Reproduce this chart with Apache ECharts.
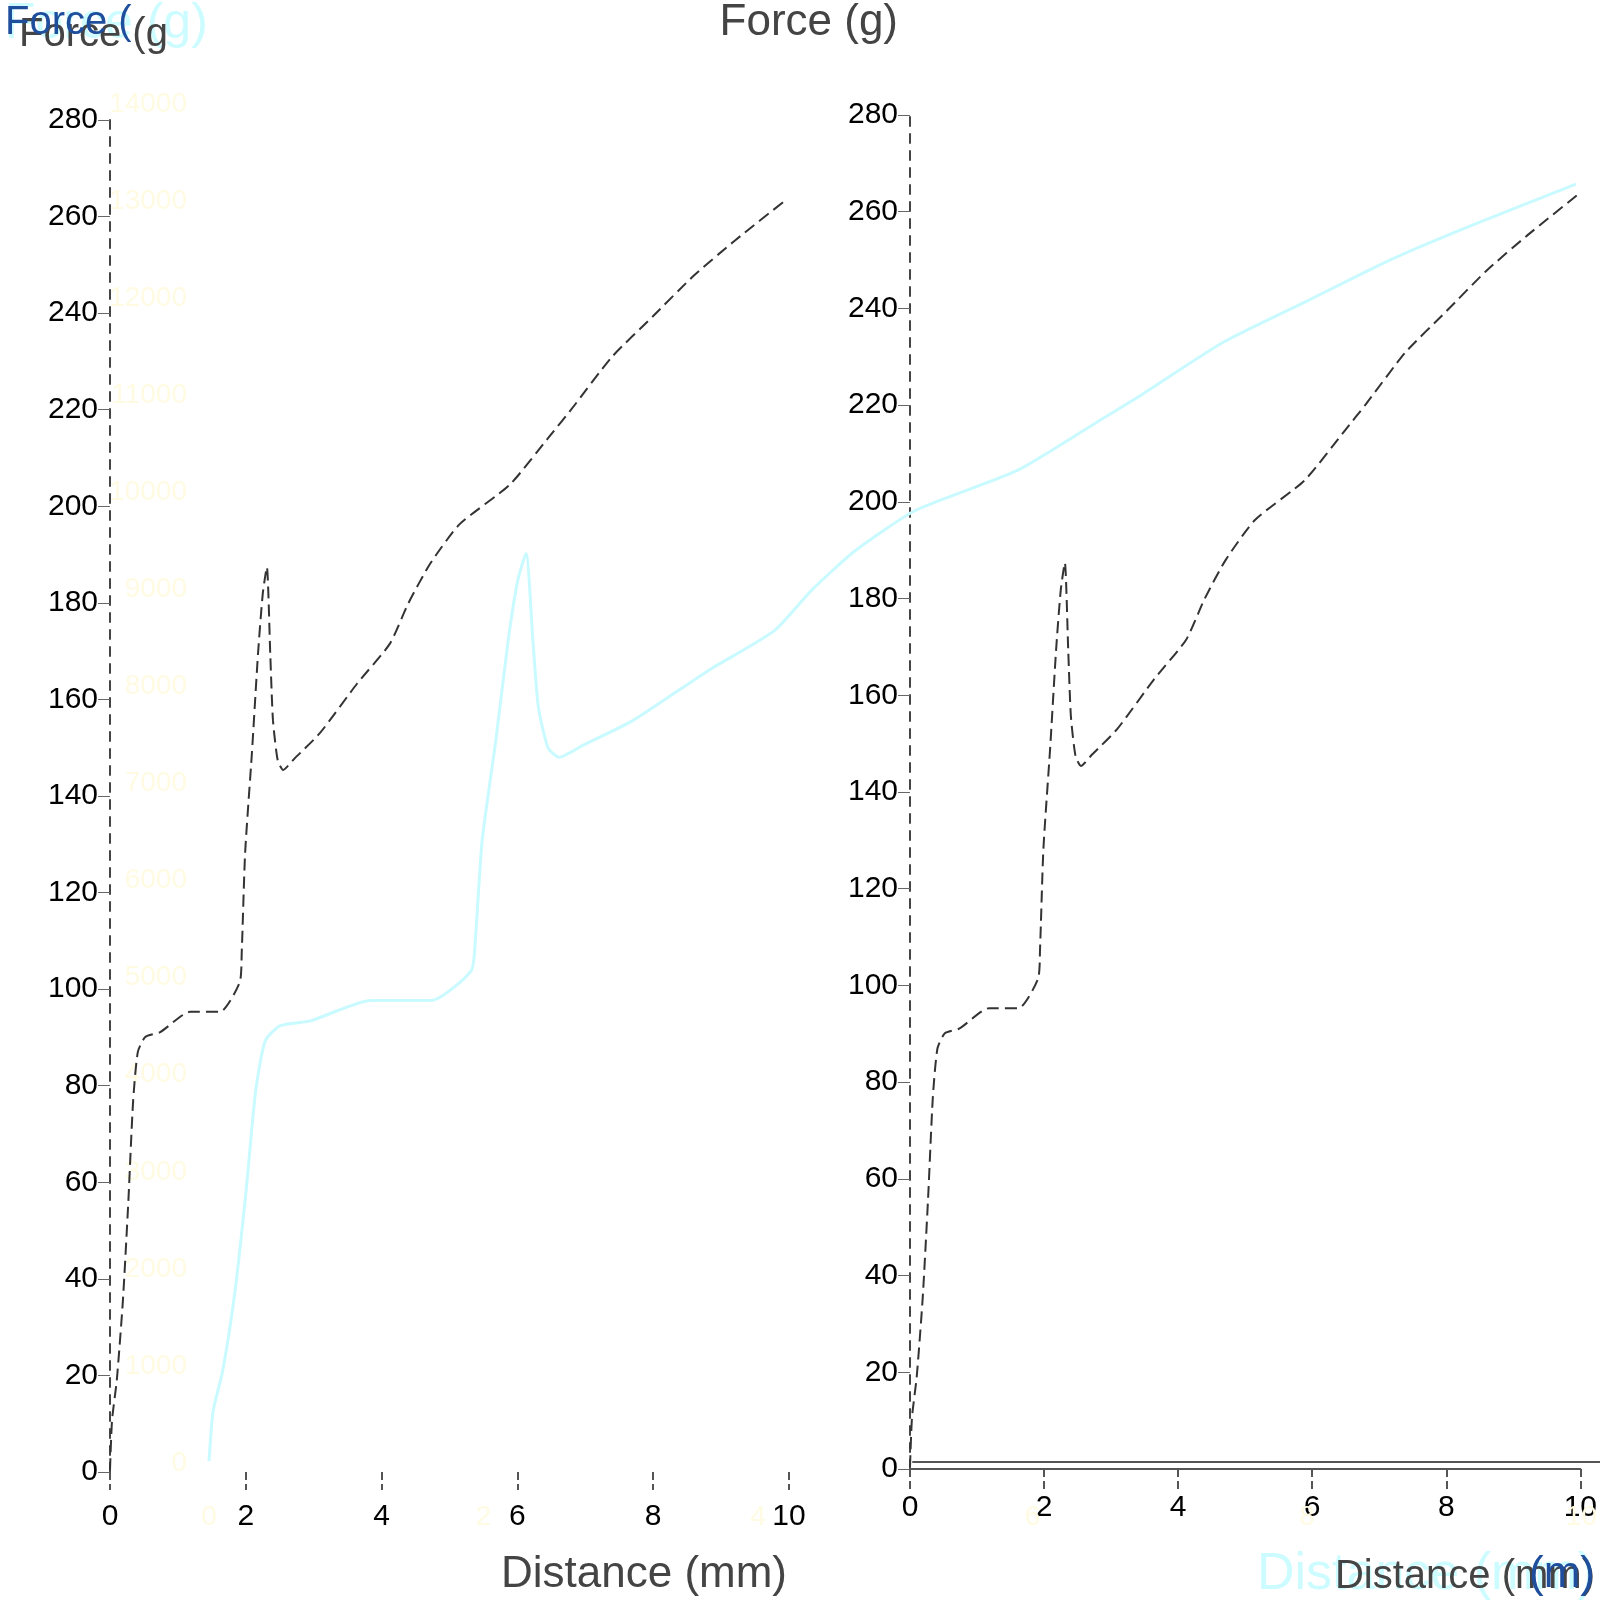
<!DOCTYPE html>
<html>
<head>
<meta charset="utf-8">
<script src="https://cdn.jsdelivr.net/npm/echarts@6/dist/echarts.min.js"></script>
<style>html,body{margin:0;padding:0;background:#fff}#c{width:1600px;height:1600px}</style>
</head>
<body>
<div id="c"></div>
<script>
// distance (mm)
var distance = [0, 0.03, 0.10, 0.19, 0.27, 0.34, 0.41, 0.52, 0.74, 1.18, 1.62, 1.91, 1.94, 1.99, 2.09, 2.18, 2.25, 2.31, 2.36, 2.40, 2.47, 2.55, 2.72, 3.09, 3.64, 4.12, 4.39, 4.71, 5.15, 5.89, 6.49, 6.79, 7.39, 8.00, 8.60, 9.20, 9.96];
// force (g)
var force = [0.4, 10.7, 19.0, 35.5, 56, 76.7, 87, 90.1, 91.1, 95.3, 95.3, 101.4, 107.6, 128.2, 148.9, 169.5, 181.9, 187.4, 169.5, 155.7, 147.4, 145.4, 147.8, 153, 163.3, 171.5, 179.8, 188, 196.3, 204.5, 214.8, 220, 230.9, 239.4, 247.8, 255, 263.5];
var xTicks = [0, 2, 4, 6, 8, 10];
var yMax = 280, yStep = 20;

var pts = distance.map(function (d, i) { return [d, force[i]]; });

var chart = echarts.init(document.getElementById('c'));
var FF = 'Liberation Sans';
var lbl = {color: '#000', fontSize: 30, fontFamily: FF};
var faint = {color: '#fffbe2', fontSize: 28, fontFamily: FF};

function ttl(text, pos, size, color) {
  return Object.assign({text: text, textStyle: {color: color, fontSize: size, fontWeight: 'normal', fontFamily: FF}}, pos);
}

chart.setOption({
  animation: false,
  backgroundColor: '#fff',
  title: [
    ttl('Force (g)', {left: 0, top: -6}, 50, '#ccfcff'),
    ttl('Force (g', {left: 14, top: 10}, 40, '#444'),
    ttl('Force (', {left: 0, top: -2}, 40, '#1f4e9c'),
    ttl('Force (g)', {right: 697, top: -4}, 44, '#444'),
    ttl('Distance (mm)', {right: 808, top: 1548}, 44, '#444'),
    ttl('Distance (mm)', {right: 0, top: 1544}, 52, '#ccfcff'),
    ttl('Distance (mm)', {right: 0, top: 1552}, 40, '#444'),
    ttl('(m)', {right: 0, top: 1548}, 44, '#1f4e9c')
  ],
  grid: [
    {left: 110, right: 811, top: 120, bottom: 128},
    {left: 910, right: 8, top: 115, bottom: 131},
    {left: 209, right: 8, top: 104, bottom: 137},
    {left: 913, right: 0, top: 115, bottom: 138}
  ],
  xAxis: [
    {gridIndex: 0, type: 'value', min: 0, max: 10, interval: 2,
      axisLine: {show: false}, splitLine: {show: false},
      axisTick: {show: true, length: 18, lineStyle: {color: '#555', width: 2, type: 'dashed'}},
      axisLabel: Object.assign({margin: 30}, lbl)},
    {gridIndex: 1, type: 'value', min: 0, max: 10, interval: 2,
      axisLine: {show: true, lineStyle: {color: '#555', width: 2}}, splitLine: {show: false},
      axisTick: {show: true, length: 22, lineStyle: {color: '#555', width: 2, type: 'dashed'}},
      axisLabel: Object.assign({margin: 24}, lbl)},
    {gridIndex: 2, type: 'value', min: 0, max: 10, interval: 2,
      axisLine: {show: false}, splitLine: {show: false}, axisTick: {show: false},
      axisLabel: Object.assign({margin: 40}, faint)},
    {gridIndex: 3, type: 'value', min: 0, max: 10, interval: 2,
      axisLine: {show: true, lineStyle: {color: '#555', width: 2}}, splitLine: {show: false},
      axisTick: {show: false}, axisLabel: {show: false}}
  ],
  yAxis: [
    {gridIndex: 0, type: 'value', min: 0, max: yMax, interval: yStep,
      axisLine: {show: true, lineStyle: {color: '#444', width: 2, type: [9, 8]}}, splitLine: {show: false},
      axisTick: {show: true, length: 12, lineStyle: {color: '#666', width: 1}},
      axisLabel: Object.assign({margin: 12}, lbl)},
    {gridIndex: 1, type: 'value', min: 0, max: yMax, interval: yStep,
      axisLine: {show: true, lineStyle: {color: '#444', width: 2, type: [9, 8]}}, splitLine: {show: false},
      axisTick: {show: true, length: 12, lineStyle: {color: '#666', width: 1}},
      axisLabel: Object.assign({margin: 12}, lbl)},
    {gridIndex: 2, type: 'value', min: 0, max: yMax, interval: yStep,
      axisLine: {show: false}, splitLine: {show: false}, axisTick: {show: false},
      axisLabel: Object.assign({margin: 22, formatter: function (v) { return v * 50; }}, faint)},
    {gridIndex: 3, type: 'value', min: 0, max: yMax, show: false}
  ],
  series: [
    {type: 'line', xAxisIndex: 2, yAxisIndex: 2, data: pts, smooth: 0.2, showSymbol: false,
      lineStyle: {color: '#c8faff', width: 3}},
    {type: 'line', xAxisIndex: 0, yAxisIndex: 0, data: pts, smooth: 0.2, showSymbol: false,
      lineStyle: {color: '#333', width: 2, type: [12, 6]}},
    {type: 'line', xAxisIndex: 1, yAxisIndex: 1, data: pts, smooth: 0.2, showSymbol: false,
      lineStyle: {color: '#333', width: 2, type: [12, 6]}}
  ]
});
</script>
</body>
</html>
